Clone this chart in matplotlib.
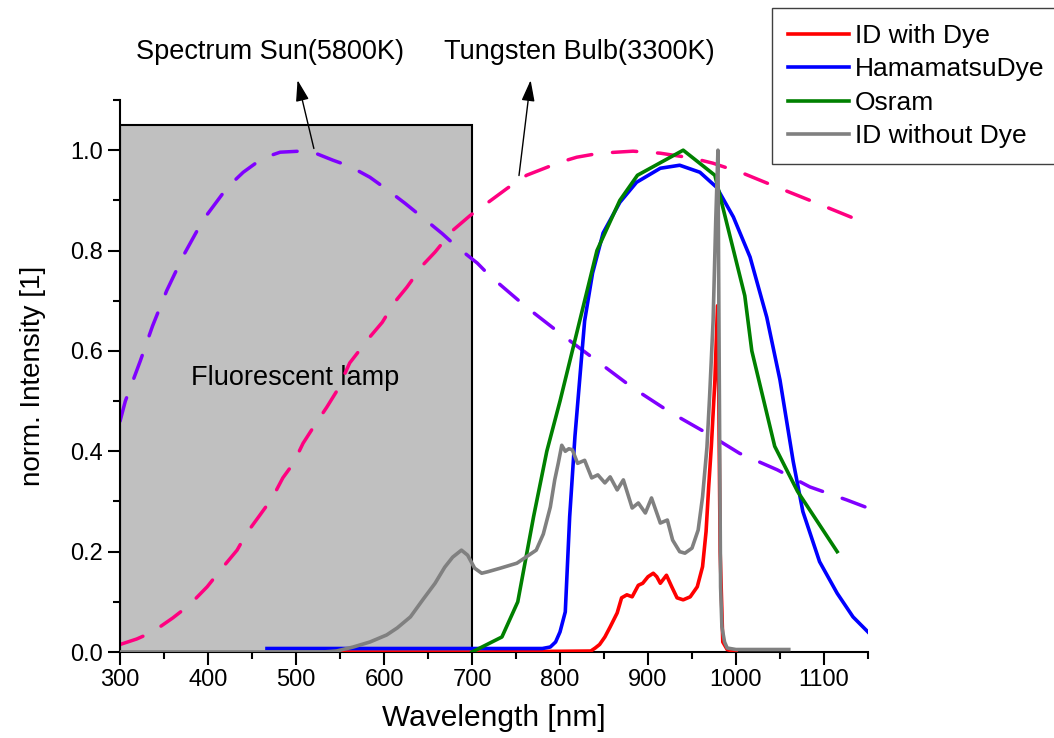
import numpy as np
import matplotlib
matplotlib.use('Agg')
import matplotlib.pyplot as plt
from matplotlib.patches import Rectangle
from matplotlib.ticker import MultipleLocator

plt.rcParams['font.family'] = ['Liberation Sans', 'DejaVu Sans']

# blackbody curves (normalised)
sun_wl = [300, 306, 323, 337, 353, 372, 394, 422, 440, 462, 482, 504, 522, 542, 561, 584, 603, 624,
          643, 666, 683, 706, 720, 762, 803, 845, 883, 925, 967, 1004, 1047, 1084, 1126, 1150]
sun_i = [0.46, 0.50, 0.58, 0.65, 0.72, 0.79, 0.86, 0.926, 0.956, 0.984, 0.996, 0.998, 0.994, 0.98,
         0.968, 0.946, 0.922, 0.894, 0.867, 0.834, 0.807, 0.775, 0.75, 0.687, 0.631, 0.576, 0.526,
         0.478, 0.436, 0.396, 0.363, 0.329, 0.303, 0.287]

tung_wl = [300, 319, 337, 360, 379, 399, 414, 433, 444, 459, 473, 485, 497, 508, 519, 535, 547, 561,
           584, 598, 612, 626, 644, 658, 678, 698, 723, 740, 762, 800, 819, 845, 883, 914, 951, 974,
           1008, 1047, 1084, 1133, 1150]
tung_i = [0.015, 0.026, 0.04, 0.068, 0.094, 0.13, 0.163, 0.203, 0.237, 0.273, 0.307, 0.347, 0.376,
          0.416, 0.446, 0.488, 0.522, 0.576, 0.628, 0.657, 0.697, 0.727, 0.771, 0.797, 0.84, 0.87,
          0.902, 0.924, 0.95, 0.976, 0.986, 0.994, 0.998, 0.994, 0.984, 0.974, 0.954, 0.926, 0.90,
          0.865, 0.853]

# measured spectra
red_wl = [550, 700, 835, 840, 845, 851, 857, 865, 870, 876, 882, 889, 894, 900, 906, 910, 914, 921,
          927, 933, 940, 948, 956, 962, 966, 969, 972, 976, 979, 980.5, 982, 985, 990, 1000]
red_i = [0, 0, 0.002, 0.008, 0.015, 0.03, 0.05, 0.078, 0.108, 0.114, 0.11, 0.133, 0.137, 0.15, 0.157,
         0.15, 0.137, 0.153, 0.13, 0.108, 0.104, 0.11, 0.13, 0.17, 0.24, 0.33, 0.41, 0.54, 0.69, 0.5,
         0.2, 0.02, 0.005, 0.0]

blue_wl = [467, 500, 600, 700, 780, 789, 795, 800, 806, 811, 817, 823, 828, 837, 849, 868, 887, 914,
           936, 959, 978, 997, 1016, 1035, 1050, 1065, 1076, 1095, 1115, 1133, 1150]
blue_i = [0.007, 0.007, 0.007, 0.007, 0.007, 0.01, 0.02, 0.04, 0.08, 0.27, 0.43, 0.556, 0.66, 0.755,
          0.835, 0.896, 0.936, 0.964, 0.97, 0.956, 0.926, 0.867, 0.787, 0.667, 0.542, 0.38, 0.28,
          0.18, 0.117, 0.07, 0.04]

green_wl = [700, 734, 752, 770, 785, 800, 828, 842, 868, 888, 940, 976, 1010, 1018, 1044, 1070, 1115]
green_i = [0, 0.03, 0.1, 0.27, 0.4, 0.5, 0.7, 0.8, 0.9, 0.95, 1.0, 0.95, 0.71, 0.6, 0.41, 0.32, 0.2]

gray_wl = [300, 500, 530, 546, 565, 584, 603, 615, 630, 644, 658, 669, 678, 688, 695, 703, 711, 718,
           732, 751, 762, 773, 781, 789, 794, 798, 802, 806, 810, 814, 820, 828, 836, 843, 851, 857,
           865, 872, 882, 889, 897, 904, 914, 922, 928, 936, 942, 950, 957, 962, 967, 970, 974, 977,
           979.5, 981, 982.5, 984, 987, 990, 1000, 1060]
gray_i = [0.0, 0.0, 0.0, 0.002, 0.01, 0.02, 0.034, 0.048, 0.07, 0.104, 0.137, 0.169, 0.189, 0.203,
          0.193, 0.167, 0.157, 0.16, 0.167, 0.177, 0.19, 0.203, 0.235, 0.289, 0.343, 0.376, 0.412,
          0.40, 0.405, 0.403, 0.376, 0.382, 0.347, 0.353, 0.337, 0.349, 0.323, 0.343, 0.287, 0.297,
          0.277, 0.307, 0.257, 0.263, 0.223, 0.2, 0.197, 0.207, 0.243, 0.309, 0.408, 0.508, 0.66,
          0.86, 1.0, 0.55, 0.13, 0.05, 0.02, 0.008, 0.005, 0.005]

lamp_range = (300, 700)
lamp_height = 1.05

fig = plt.figure(figsize=(10.54, 7.38), dpi=100)
ax = fig.add_axes([0.1139, 0.1165, 0.8235 - 0.1139, 0.8645 - 0.1165])

ax.add_patch(Rectangle((lamp_range[0], 0), lamp_range[1] - lamp_range[0], lamp_height,
                       facecolor='#C0C0C0', edgecolor='black', lw=1.5, zorder=1))
ax.text(499, 0.546, 'Fluorescent lamp', fontsize=19.5, ha='center', va='center', zorder=2)

ax.plot(sun_wl, sun_i, color='#8000FF', lw=2.5, dashes=(7, 6), dash_capstyle='round', zorder=2)
ax.plot(tung_wl, tung_i, color='#FF0080', lw=2.5, dashes=(7, 6), dash_capstyle='round', zorder=2)

ax.plot(red_wl, red_i, color='#FF0000', lw=2.6, label='ID with Dye', zorder=3)
ax.plot(blue_wl, blue_i, color='#0000FF', lw=2.6, label='HamamatsuDye', zorder=3)
ax.plot(green_wl, green_i, color='#008000', lw=2.6, label='Osram', zorder=3)
ax.plot(gray_wl, gray_i, color='#808080', lw=2.6, label='ID without Dye', zorder=4)

# annotations
arrow = dict(arrowstyle='-|>,head_length=0.8,head_width=0.25', color='black', lw=1.0,
             mutation_scale=16)
ax.annotate('', xy=(501, 1.145), xytext=(521, 0.998), arrowprops=arrow, annotation_clip=False)
ax.annotate('', xy=(767, 1.145), xytext=(753, 0.944), arrowprops=arrow, annotation_clip=False)
ax.text(470.5, 1.195, 'Spectrum Sun(5800K)', fontsize=19.5, ha='center', va='center', clip_on=False)
ax.text(821.6, 1.195, 'Tungsten Bulb(3300K)', fontsize=19.5, ha='center', va='center', clip_on=False)

ax.set_xlim(300, 1150)
ax.set_ylim(0, 1.1)
ax.xaxis.set_major_locator(MultipleLocator(100))
ax.xaxis.set_minor_locator(MultipleLocator(50))
ax.yaxis.set_major_locator(MultipleLocator(0.2))
ax.yaxis.set_minor_locator(MultipleLocator(0.1))
ax.yaxis.set_major_formatter(plt.FuncFormatter(lambda v, p: f'{v:.1f}'))
ax.tick_params(which='major', direction='out', length=9, width=1.5, labelsize=17)
ax.tick_params(which='minor', direction='out', length=5, width=1.5)
for s in ['top', 'right']:
    ax.spines[s].set_visible(False)
for s in ['left', 'bottom']:
    ax.spines[s].set_linewidth(1.5)

ax.set_xlabel('Wavelength [nm]', fontsize=21.5, labelpad=9)
ax.set_ylabel('norm. Intensity [1]', fontsize=20, labelpad=17)

fig.legend(loc='upper left', bbox_to_anchor=(772 / 1054, 1 - 8 / 738), fontsize=19,
           frameon=True, fancybox=False, edgecolor='#404040', framealpha=1,
           handlelength=2.3, handletextpad=0.25, labelspacing=0.36, borderpad=0.6,
           borderaxespad=0)

plt.savefig('out.png', dpi=100)
